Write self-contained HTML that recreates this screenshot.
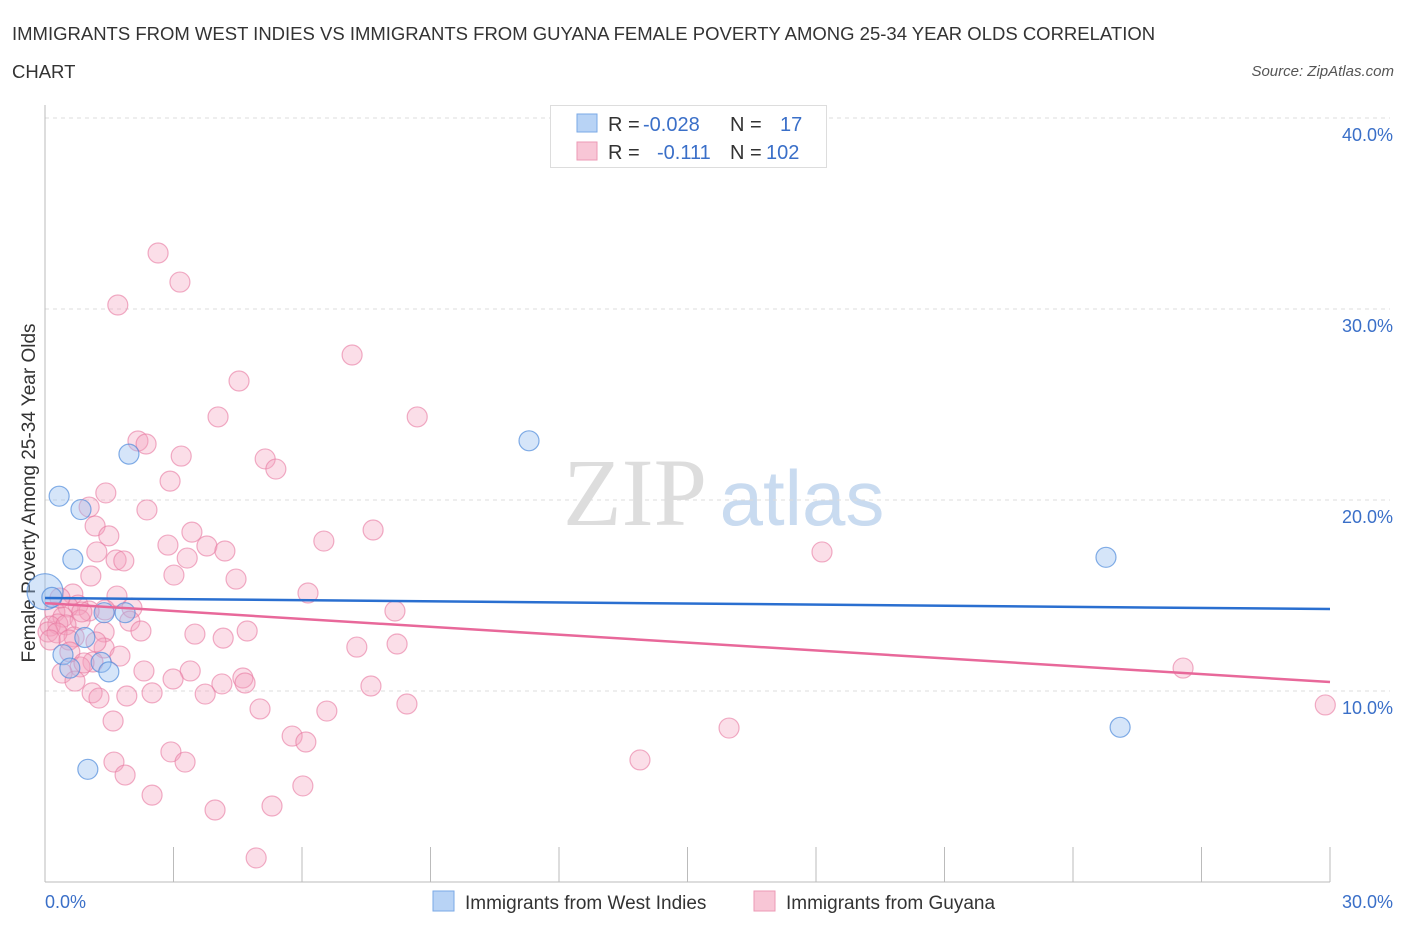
<!DOCTYPE html>
<html><head><meta charset="utf-8"><style>
body{margin:0;background:#fff;font-family:"Liberation Sans",sans-serif;}
</style></head><body>
<svg width="1406" height="930" xmlns="http://www.w3.org/2000/svg" id="chart">
<text x="12" y="40" font-size="18.5" fill="#333">IMMIGRANTS FROM WEST INDIES VS IMMIGRANTS FROM GUYANA FEMALE POVERTY AMONG 25-34 YEAR OLDS CORRELATION</text>
<text x="12" y="78" font-size="18.5" fill="#333">CHART</text>
<text x="1394" y="76" font-size="15" fill="#555" font-style="italic" text-anchor="end">Source: ZipAtlas.com</text>
<g>
<text x="635" y="525" font-size="96" font-family="Liberation Serif,serif" fill="#ddd" text-anchor="middle">ZIP</text>
<text x="802" y="525" font-size="78" fill="#c9dbf0" text-anchor="middle">atlas</text>
</g>
<g id="grid"></g><g id="axes"></g><g id="pts"></g><g id="trend"></g>
<g>
<rect x="550.5" y="105.5" width="276" height="62" fill="#fff" stroke="#ddd"/>
<rect x="577" y="114" width="20" height="18" fill="#b8d3f5" stroke="#7aa8e6"/>
<rect x="577" y="142" width="20" height="18" fill="#f8c6d6" stroke="#ec9ab5"/>
<text y="131" font-size="20" fill="#333"><tspan x="608">R = </tspan><tspan x="643" fill="#3a6fc8">-0.028</tspan><tspan x="730">N = </tspan><tspan x="780" fill="#3a6fc8">17</tspan></text>
<text y="159" font-size="20" fill="#333"><tspan x="608">R = </tspan><tspan x="657" fill="#3a6fc8">-0.111</tspan><tspan x="730">N = </tspan><tspan x="766" fill="#3a6fc8">102</tspan></text>
</g>
<g>
<rect x="433" y="891" width="21" height="20" fill="#b8d3f5" stroke="#7aa8e6"/>
<text x="465" y="909" font-size="19" fill="#333">Immigrants from West Indies</text>
<rect x="754" y="891" width="21" height="20" fill="#f8c6d6" stroke="#ec9ab5"/>
<text x="786" y="909" font-size="19" fill="#333">Immigrants from Guyana</text>
</g>
</svg>
<script>
const yTicks=[10,20,30,40];
const xTickLabels=["0.0%","30.0%"];
const blueX=[0,0.16,0.33,0.65,0.84,0.93,0.42,0.58,1.31,1.49,1.38,1.87,1.96,1.0,11.3,24.77,25.1];
const blueY=[15.2,14.9,20.2,16.9,19.5,12.8,11.9,11.2,11.5,11.0,14.1,14.1,22.4,5.9,23.1,17.0,8.1];
const blueR=[18,10,10,10,10,10,10,10,10,10,10,10,10,10,10,10,10];
const pinkPx=[[158,253],[180,282],[118,305],[352,355],[239,381],[218,417],[417,417],[138,441],[146,444],[181,456],[265,459],[276,469],[170,481],[106,493],[89,507],[147,510],[95,526],[192,532],[109,536],[324,541],[373,530],[168,545],[207,546],[225,551],[97,552],[116,560],[124,561],[822,552],[187,558],[91,576],[174,575],[236,579],[308,593],[73,594],[117,596],[78,605],[68,607],[105,610],[89,611],[132,608],[55,612],[63,617],[80,620],[130,621],[58,624],[50,626],[66,625],[48,632],[141,631],[104,632],[247,631],[195,634],[223,638],[74,637],[395,611],[357,647],[397,644],[104,648],[120,656],[93,662],[80,667],[144,671],[190,671],[62,673],[75,681],[173,679],[243,678],[245,683],[222,684],[371,686],[92,693],[99,698],[127,696],[152,693],[205,694],[407,704],[260,709],[327,711],[113,721],[1183,668],[1325,705],[729,728],[292,736],[306,742],[171,752],[114,762],[185,762],[640,760],[125,775],[303,786],[152,795],[272,806],[215,810],[256,858],[57,633],[69,640],[60,598],[82,612],[96,642],[70,652],[84,663],[50,640]];
const pinkX=pinkPx.map(p=>+((p[0]-45)/42.83).toFixed(2));
const pinkY=pinkPx.map(p=>+((882-p[1])/19.1).toFixed(2));
const blueTrend=[14.87,14.29];
const pinkTrend=[14.6,10.47];
const X0=45,X1=1330,Y0=882,Y40=118;
const sx=v=>X0+v/30*(X1-X0);
const sy=v=>Y0-v/40*(Y0-Y40);
const NS="http://www.w3.org/2000/svg";
function mk(p,t,a){const e=document.createElementNS(NS,t);for(const k in a)e.setAttribute(k,a[k]);p.appendChild(e);return e;}
const grid=document.getElementById('grid'),axes=document.getElementById('axes');
yTicks.forEach(t=>{
 const l=mk(grid,'line',{x1:X0,x2:1390,y1:sy(t),y2:sy(t),stroke:'#ddd','stroke-dasharray':'4,4'});
 
 
 const tx=mk(axes,'text',{x:1393,y:sy(t)+23,'font-size':18,fill:'#3a6fc8','text-anchor':'end'});
 tx.textContent=t.toFixed(1)+'%';
 
 
});
const ya=mk(axes,'line',{x1:X0,x2:X0,y1:105,y2:Y0,stroke:'#bbb'});


const xa=mk(axes,'line',{x1:X0,x2:X1,y1:Y0,y2:Y0,stroke:'#bbb'});


for(let i=0;i<=10;i++){const t=mk(axes,'line',{x1:sx(i*3),x2:sx(i*3),y1:Y0-35,y2:Y0,stroke:'#bbb'});
 
 }
const xl0=mk(axes,'text',{x:45,y:908,'font-size':18,fill:'#3a6fc8'});xl0.textContent=xTickLabels[0];


const xl1=mk(axes,'text',{x:1393,y:908,'font-size':18,fill:'#3a6fc8','text-anchor':'end'});xl1.textContent=xTickLabels[1];


const yt=mk(axes,'text',{x:0,y:0,'font-size':19,fill:'#333','text-anchor':'middle',transform:'translate(35,493) rotate(-90)'});yt.textContent='Female Poverty Among 25-34 Year Olds';


const pts=document.getElementById('pts');
pinkX.forEach((v,i)=>{const c=mk(pts,'circle',{cx:sx(v),cy:sy(pinkY[i]),r:10,fill:'rgba(244,160,190,0.35)',stroke:'rgba(232,120,160,0.6)','stroke-width':1.2});
 
 });
blueX.forEach((v,i)=>{const c=mk(pts,'circle',{cx:sx(v),cy:sy(blueY[i]),r:blueR[i],fill:'rgba(150,190,240,0.4)',stroke:'rgba(80,140,220,0.7)','stroke-width':1.2});
 
 });
const tr=document.getElementById('trend');
const bl=mk(tr,'line',{x1:sx(0),x2:sx(30),y1:sy(blueTrend[0]),y2:sy(blueTrend[1]),stroke:'#2a6fd0','stroke-width':2.5});


const pl=mk(tr,'line',{x1:sx(0),x2:sx(30),y1:sy(pinkTrend[0]),y2:sy(pinkTrend[1]),stroke:'#e8689a','stroke-width':2.5});


</script>
</body></html>
